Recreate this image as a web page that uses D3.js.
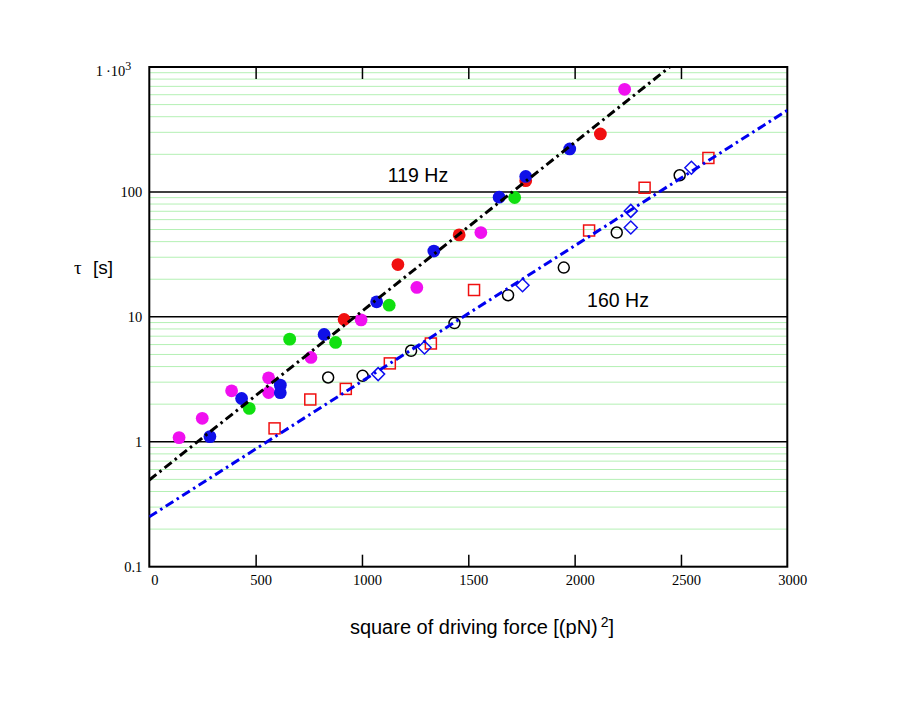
<!DOCTYPE html>
<html>
<head>
<meta charset="utf-8">
<script src="https://cdn.jsdelivr.net/npm/d3@7"></script>
<style>
  body { margin: 0; background: #fff; }
  svg { display: block; }
</style>
</head>
<body>
<div id="chart"></div>
<script>
// [x = F^2 in (pN)^2, tau in s]
const magentaDots = [[140,1.08],[249,1.54],[387,2.56],[561,3.25],[561,2.48],[760,4.73],[996,9.46],[1258,17.2],[1559,47.3],[2235,663]];
const blueDots = [[285,1.10],[434,2.22],[616,2.84],[616,2.47],[822,7.23],[1069,13.2],[1338,33.6],[1645,90.7],[1770,133],[1977,221]];
const redDots = [[916,9.53],[1169,26.2],[1457,45.3],[1770,123],[2121,291]];
const greenDots = [[470,1.85],[660,6.63],[876,6.24],[1128,12.4],[1718,90.2]];
const openCircles = [[841,3.27],[1003,3.37],[1231,5.35],[1435,8.91],[1687,14.9],[1949,24.8],[2198,47.3],[2494,136]];
const openSquares = [[589,1.28],[757,2.18],[924,2.65],[1131,4.24],[1324,6.12],[1527,16.4],[2068,49.1],[2329,108],[2629,187]];
const openDiamonds = [[1076,3.48],[1294,5.69],[1755,17.9],[2264,51.9],[2264,70.5],[2549,156]];

// fitted lines (end points)
const fit119 = [[0,0.494],[2447,1000]];
const fit160 = [[0,0.251],[3000,450]];

const xTicks = [0,500,1000,1500,2000,2500,3000];
const yTicks = [0.1,1,10,100,1000];
const yTickLabels = ["0.1","1","10","100","1\u2009·10"];
const majorLines = [1,10,100];

const width = 921, height = 709;
const margin = {top: 67, right: 921 - 787.3, bottom: 709 - 566.7, left: 149.3};

const x = d3.scaleLinear().domain([0,3000]).range([margin.left, width - margin.right]);
const y = d3.scaleLog().domain([0.1,1000]).range([height - margin.bottom, margin.top]);

const svg = d3.select("#chart").append("svg")
  .attr("width", width)
  .attr("height", height);

// minor grid
const minor = [];
for (let d = 0.1; d < 1000; d *= 10) {
  for (let k = 2; k <= 9; k++) minor.push(+(d*k).toPrecision(3));
}
svg.append("g").selectAll("line")
  .data(minor)
  .enter().append("line")
  .attr("x1", x(0)).attr("x2", x(3000))
  .attr("y1", d => y(d)).attr("y2", d => y(d))
  .attr("stroke", "#b4f0b4")
  .attr("stroke-width", 1);

svg.append("g").selectAll("line")
  .data(majorLines)
  .enter().append("line")
  .attr("x1", x(0)).attr("x2", x(3000))
  .attr("y1", d => y(d)).attr("y2", d => y(d))
  .attr("stroke", "#000")
  .attr("stroke-width", 1.5);

// axes
const serif = "'Liberation Serif', 'Times New Roman', serif";
const sans = "'Liberation Sans', Arial, Helvetica, sans-serif";

const xAxis = svg.append("g")
  .attr("transform", `translate(0,${y(0.1)})`)
  .call(d3.axisBottom(x).tickValues(xTicks).tickSize(-12).tickPadding(8).tickFormat(d3.format("d")));
xAxis.select(".domain").remove();
xAxis.selectAll("line").attr("stroke-width", 1.5);
xAxis.selectAll("text").attr("dx", 5).style("font-family", serif).style("font-size", "14.5px");
// 0 and 3000 labels have no tick lines of their own
xAxis.selectAll(".tick").filter(d => d === 0 || d === 3000).select("line").remove();

const xTop = svg.append("g")
  .attr("transform", `translate(0,${y(1000)})`)
  .call(d3.axisTop(x).tickValues(xTicks.slice(1,-1)).tickSize(-12).tickFormat(""));
xTop.select(".domain").remove();
xTop.selectAll("line").attr("stroke-width", 1.5);

const yAxis = svg.append("g")
  .attr("transform", `translate(${x(0)},0)`)
  .call(d3.axisLeft(y).tickValues(yTicks).tickSize(0).tickPadding(7)
    .tickFormat((d,i) => yTickLabels[i]));
yAxis.select(".domain").remove();
yAxis.selectAll("text").style("font-family", serif).style("font-size", "14.5px");
yAxis.selectAll(".tick").filter(d => d === 1000).select("text")
  .attr("dx", -11)
  .attr("dy", "0.6em")
  .append("tspan")
  .attr("dy", "-0.5em")
  .style("font-size", "12px")
  .text("3");

// frame
svg.append("rect")
  .attr("x", x(0)).attr("y", y(1000))
  .attr("width", x(3000) - x(0)).attr("height", y(0.1) - y(1000))
  .attr("fill", "none").attr("stroke", "#000").attr("stroke-width", 2);

// points
const plot = svg.append("g");

function dots(data, color) {
  plot.append("g").selectAll("circle")
    .data(data).enter().append("circle")
    .attr("cx", d => x(d[0])).attr("cy", d => y(d[1]))
    .attr("r", 6.4).attr("fill", color);
}
dots(magentaDots, "#f010f0");
dots(greenDots, "#10e010");
dots(redDots, "#f01010");
dots(blueDots, "#1010e8");

plot.append("g").selectAll("circle")
  .data(openCircles).enter().append("circle")
  .attr("cx", d => x(d[0])).attr("cy", d => y(d[1]))
  .attr("r", 5.5).attr("fill", "none").attr("stroke", "#000").attr("stroke-width", 1.5);

plot.append("g").selectAll("rect")
  .data(openSquares).enter().append("rect")
  .attr("x", d => x(d[0]) - 5.5).attr("y", d => y(d[1]) - 5.5)
  .attr("width", 11).attr("height", 11)
  .attr("fill", "none").attr("stroke", "#f01010").attr("stroke-width", 1.5);

plot.append("g").selectAll("path")
  .data(openDiamonds).enter().append("path")
  .attr("transform", d => `translate(${x(d[0])},${y(d[1])})`)
  .attr("d", "M0,-6.5L6.5,0L0,6.5L-6.5,0Z")
  .attr("fill", "none").attr("stroke", "#1010f0").attr("stroke-width", 1.5);

// fit lines
svg.append("clipPath").attr("id", "clip")
  .append("rect")
  .attr("x", x(0)).attr("y", y(1000))
  .attr("width", x(3000) - x(0)).attr("height", y(0.1) - y(1000));

const line = d3.line().x(d => x(d[0])).y(d => y(d[1]));

svg.append("path")
  .datum(fit119)
  .attr("d", line)
  .attr("clip-path", "url(#clip)")
  .attr("fill", "none").attr("stroke", "#000").attr("stroke-width", 3)
  .attr("stroke-dasharray", "9,4,2.5,4");

svg.append("path")
  .datum(fit160)
  .attr("d", line)
  .attr("clip-path", "url(#clip)")
  .attr("fill", "none").attr("stroke", "#0000f0").attr("stroke-width", 3)
  .attr("stroke-dasharray", "9,4,2.5,4");

// labels
svg.append("text")
  .attr("x", 418).attr("y", 182)
  .attr("text-anchor", "middle")
  .style("font-family", sans).style("font-size", "19.5px")
  .text("119 Hz");

svg.append("text")
  .attr("x", 618).attr("y", 307)
  .attr("text-anchor", "middle")
  .style("font-family", sans).style("font-size", "19.5px")
  .text("160 Hz");

const xt = svg.append("text")
  .attr("x", 482).attr("y", 634)
  .attr("text-anchor", "middle")
  .style("font-family", sans).style("font-size", "20px");
xt.append("tspan").text("square of driving force [(pN)");
xt.append("tspan").attr("dy", -7).attr("dx", 3).style("font-size", "14px").text("2");
xt.append("tspan").attr("dy", 7).text("]");

const yt = svg.append("text")
  .attr("x", 74).attr("y", 274)
  .style("font-size", "19px");
yt.append("tspan").style("font-family", serif).text("τ");
yt.append("tspan").attr("x", 93).style("font-family", sans).text("[s]");
</script>
</body>
</html>
